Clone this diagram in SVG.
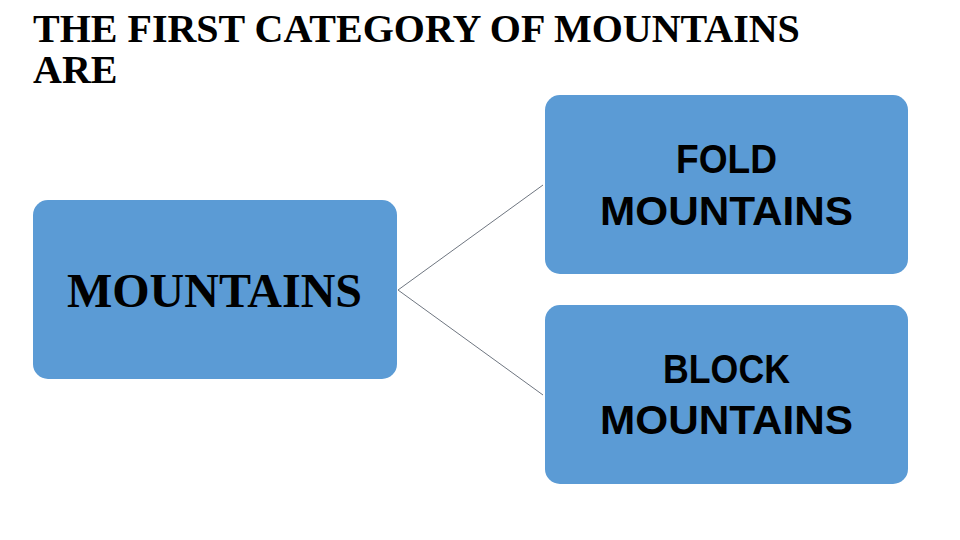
<svg xmlns="http://www.w3.org/2000/svg" width="960" height="540" viewBox="0 0 960 540">
<style>
.box{fill:#5B9BD5;}
.serif{font-family:"Liberation Serif","Times New Roman",serif;font-weight:bold;fill:#000;}
.sans{font-family:"Liberation Sans",Arial,sans-serif;font-weight:bold;font-size:40px;fill:#000;text-anchor:middle;}
.conn{stroke:#6f7680;stroke-width:1;fill:none;}
</style>
<rect width="960" height="540" fill="#fff"/>
<g id="title">
<text class="serif" x="33" y="42" font-size="40">THE FIRST CATEGORY OF MOUNTAINS</text>
<text class="serif" x="33" y="83" font-size="40">ARE</text>
</g>
<g id="connectors">
<line class="conn" x1="398" y1="290" x2="543" y2="185"/>
<line class="conn" x1="398" y1="290" x2="543" y2="395"/>
</g>
<g id="mountains">
<rect class="box" x="33" y="200" width="364" height="179" rx="15"/>
<text class="serif" x="214.5" y="307" font-size="48" text-anchor="middle">MOUNTAINS</text>
</g>
<g id="fold">
<rect class="box" x="545" y="95" width="363" height="179" rx="15"/>
<text class="sans" x="726.5" y="173" textLength="101" lengthAdjust="spacingAndGlyphs">FOLD</text>
<text class="sans" x="726.5" y="225" textLength="253" lengthAdjust="spacingAndGlyphs">MOUNTAINS</text>
</g>
<g id="block">
<rect class="box" x="545" y="305" width="363" height="179" rx="15"/>
<text class="sans" x="726.5" y="383" textLength="127" lengthAdjust="spacingAndGlyphs">BLOCK</text>
<text class="sans" x="726.5" y="434" textLength="253" lengthAdjust="spacingAndGlyphs">MOUNTAINS</text>
</g>
</svg>
